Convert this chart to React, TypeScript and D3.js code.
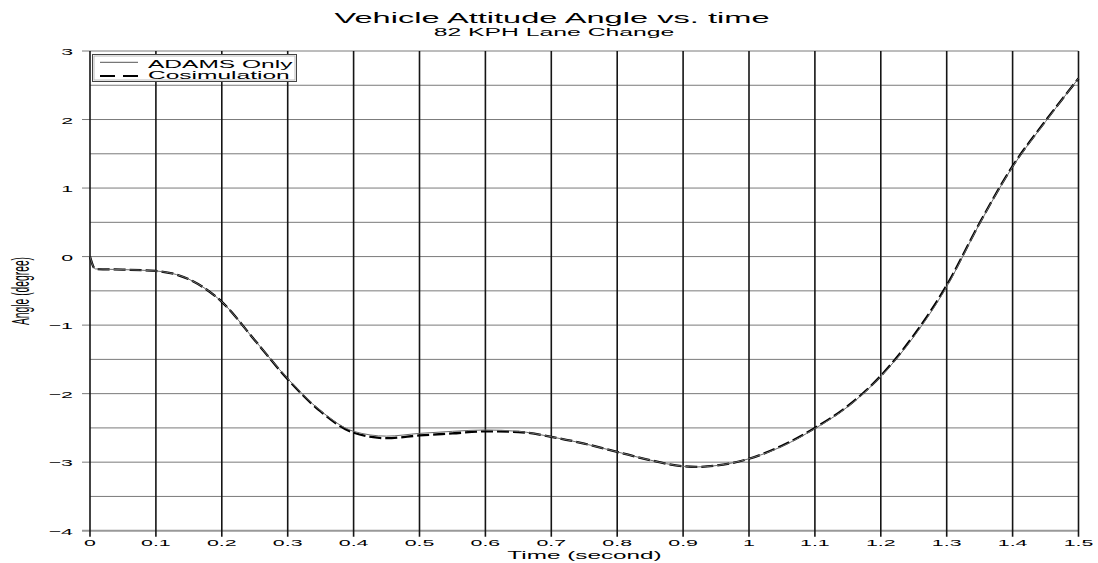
import React from 'react';
import * as d3 from 'd3';

// time samples (s) and attitude angle (deg)
const timeS = [0, 0.008, 0.05, 0.1, 0.15, 0.2, 0.25, 0.3, 0.35, 0.4, 0.45, 0.5, 0.55, 0.6, 0.65, 0.7, 0.75, 0.8, 0.85, 0.9, 0.92, 0.95, 1.0, 1.05, 1.1, 1.15, 1.2, 1.25, 1.3, 1.35, 1.4, 1.45, 1.5];
const adamsOnly = [0, -0.18, -0.19, -0.21, -0.33, -0.66, -1.22, -1.78, -2.25, -2.55, -2.62, -2.58, -2.55, -2.53, -2.55, -2.63, -2.73, -2.85, -2.97, -3.06, -3.07, -3.05, -2.95, -2.77, -2.51, -2.19, -1.75, -1.17, -0.44, 0.48, 1.31, 1.97, 2.6];
const cosimulation = [0, -0.18, -0.19, -0.21, -0.33, -0.66, -1.22, -1.79, -2.26, -2.57, -2.65, -2.61, -2.58, -2.55, -2.56, -2.63, -2.73, -2.85, -2.97, -3.06, -3.07, -3.05, -2.95, -2.76, -2.5, -2.18, -1.74, -1.15, -0.42, 0.49, 1.32, 1.98, 2.6];

const xTicks = [0, 0.1, 0.2, 0.3, 0.4, 0.5, 0.6, 0.7, 0.8, 0.9, 1, 1.1, 1.2, 1.3, 1.4, 1.5];
const yTicks = [-4, -3, -2, -1, 0, 1, 2, 3];
const yGrid = [-4, -3.5, -3, -2.5, -2, -1.5, -1, -0.5, 0, 0.5, 1, 1.5, 2, 2.5, 3];

const seriesNames = ['ADAMS Only', 'Cosimulation'];

const W = 1098;
const H = 563;
const SX = 2.25; // the original plot is stretched horizontally
const FONT = 'Liberation Sans, Arial, Helvetica, sans-serif';

function fmt(v: number) {
  const s = String(v);
  return s.startsWith('-') ? '\u2212' + s.slice(1) : s;
}

function Txt({ x, y, size, anchor = 'middle', children }: { x: number; y: number; size: number; anchor?: string; children: React.ReactNode }) {
  return (
    <text transform={`translate(${x},${y}) scale(${SX},1)`} fontSize={size} textAnchor={anchor} fontFamily={FONT} fill="#000">
      {children}
    </text>
  );
}

export default function App() {
  const x = d3.scaleLinear().domain([0, 1.5]).range([90, 1078.5]);
  const y = d3.scaleLinear().domain([-4, 3]).range([530.7, 51]);

  const line = d3.line<number>()
    .x((_, i) => x(timeS[i]))
    .y(d => y(d))
    .curve(d3.curveMonotoneX);

  return (
    <svg width={W} height={H} style={{ position: 'absolute', left: 0, top: 0, background: '#fff' }}>
      {/* horizontal grid */}
      {yGrid.map(v => (
        <line key={'h' + v}
          x1={Number.isInteger(v) ? 82 : x(0)} x2={x(1.5)}
          y1={y(v)} y2={y(v)}
          stroke={v === -4 ? '#999' : '#7a7a7a'} strokeWidth={v === -4 ? 2 : 1} />
      ))}
      {/* vertical grid */}
      {xTicks.map(t => (
        <line key={'v' + t} x1={x(t)} x2={x(t)} y1={y(3)} y2={y(-4) + 6} stroke="#151515" strokeWidth={1.6} />
      ))}

      {/* curves */}
      <path d={line(cosimulation) || ''} fill="none" stroke="#000" strokeWidth={2.3} strokeDasharray="12 4" />
      <path d={line(adamsOnly) || ''} fill="none" stroke="#6a6a6a" strokeWidth={1} />

      {/* tick labels */}
      {xTicks.map(t => (
        <Txt key={'xt' + t} x={x(t)} y={546} size={9.5}>{String(t)}</Txt>
      ))}
      {yTicks.map(v => (
        <Txt key={'yt' + v} x={73} y={y(v) + 4} size={9.5} anchor="end">{fmt(v)}</Txt>
      ))}

      {/* titles */}
      <Txt x={552} y={23} size={14.5}>Vehicle Attitude Angle vs. time</Txt>
      <Txt x={554} y={35.5} size={11}>82 KPH Lane Change</Txt>
      <Txt x={584.5} y={558.5} size={10.8}>Time (second)</Txt>
      <text transform={`translate(29,291) scale(${SX},1) rotate(-90)`} fontSize={10.3} textAnchor="middle" fontFamily={FONT}>
        Angle (degree)
      </text>

      {/* legend */}
      <rect x={92.5} y={54.5} width={204} height={27} fill="#fff" stroke="#444" strokeWidth={1} />
      <rect x={94} y={56} width={201} height={24} fill="none" stroke="#aaa" strokeWidth={0.8} />
      <line x1={100} x2={138} y1={62.3} y2={62.3} stroke="#555" strokeWidth={1} />
      <line x1={100} x2={138} y1={76} y2={76} stroke="#000" strokeWidth={2} strokeDasharray="15 8" />
      <Txt x={148} y={67.5} size={10.9} anchor="start">{seriesNames[0]}</Txt>
      <Txt x={148} y={79.3} size={10.9} anchor="start">{seriesNames[1]}</Txt>
    </svg>
  );
}
